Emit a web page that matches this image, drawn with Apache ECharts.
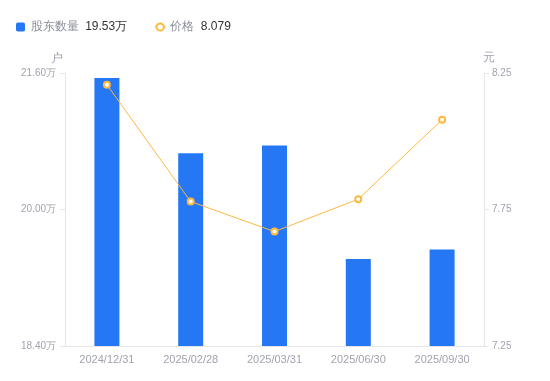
<!DOCTYPE html>
<html>
<head>
<meta charset="utf-8">
<script src="https://cdn.jsdelivr.net/npm/echarts@6/dist/echarts.min.js"></script>
<style>
  html, body { margin: 0; padding: 0; background: #fff; }
  #chart { width: 550px; height: 381px; }
</style>
</head>
<body>
<div id="chart"></div>
<script>
// 数据
var dates = ['2024/12/31', '2025/02/28', '2025/03/31', '2025/06/30', '2025/09/30'];
var holders = [21.54, 20.66, 20.75, 19.42, 19.53];   // 股东数量（万户）
var prices = [8.207, 7.779, 7.669, 7.788, 8.079];    // 价格（元）
var holderTicks = [18.40, 21.60, 1.60];              // min, max, interval
var priceTicks = [7.25, 8.25, 0.50];

var chart = echarts.init(document.getElementById('chart'));

var labelColor = '#a0a3af';
var lineColor = '#e6e6e8';

var option = {
  animation: false,
  legend: {
    left: 11,
    top: 16,
    itemWidth: 10,
    itemHeight: 9,
    itemGap: 27,
    data: [
      { name: '股东数量', icon: 'path://M2,0H8A2,2,0,0,1,10,2V8A2,2,0,0,1,8,10H2A2,2,0,0,1,0,8V2A2,2,0,0,1,2,0Z' },
      { name: '价格' }
    ],
    formatter: function (name) {
      if (name === '股东数量') {
        return '{n|' + name + '}  {v|' + holders[holders.length - 1].toFixed(2) + '万}';
      }
      return '{n|' + name + '}  {v|' + prices[prices.length - 1].toFixed(3) + '}';
    },
    textStyle: {
      rich: {
        n: { color: '#8c8f9b', fontSize: 12 },
        v: { color: '#333', fontSize: 12 }
      }
    }
  },
  grid: { left: 65, right: 66, top: 73, bottom: 35 },
  xAxis: {
    type: 'category',
    data: dates,
    axisLine: { lineStyle: { color: lineColor } },
    axisTick: { show: false },
    axisLabel: { color: labelColor, fontSize: 11, margin: 8 }
  },
  yAxis: [
    {
      type: 'value',
      name: '户',
      nameGap: 8,
      nameTextStyle: { color: labelColor, fontSize: 12, align: 'right', padding: [0, 2, 0, 0] },
      min: holderTicks[0],
      max: holderTicks[1],
      interval: holderTicks[2],
      axisLine: { show: true, lineStyle: { color: lineColor } },
      axisTick: { show: true, length: 5, lineStyle: { color: lineColor } },
      splitLine: { show: false },
      axisLabel: {
        color: labelColor, fontSize: 10, margin: 9,
        formatter: function (v) { return v.toFixed(2) + '万'; }
      }
    },
    {
      type: 'value',
      name: '元',
      nameGap: 9,
      nameTextStyle: { color: labelColor, fontSize: 12, align: 'left', padding: [0, 0, 0, -1] },
      min: priceTicks[0],
      max: priceTicks[1],
      interval: priceTicks[2],
      axisLine: { show: true, lineStyle: { color: lineColor } },
      axisTick: { show: true, length: 5, lineStyle: { color: lineColor } },
      splitLine: { show: false },
      axisLabel: {
        color: labelColor, fontSize: 10, margin: 8,
        formatter: function (v) { return v.toFixed(2); }
      }
    }
  ],
  series: [
    {
      name: '股东数量',
      type: 'bar',
      data: holders,
      barWidth: 25,
      itemStyle: { color: '#2577f3' }
    },
    {
      name: '价格',
      type: 'line',
      yAxisIndex: 1,
      data: prices,
      symbol: 'emptyCircle',
      symbolSize: 6,
      lineStyle: { color: '#ffb840', width: 1 },
      itemStyle: { color: '#ffb840', borderWidth: 2 }
    }
  ]
};

chart.setOption(option);
</script>
</body>
</html>
